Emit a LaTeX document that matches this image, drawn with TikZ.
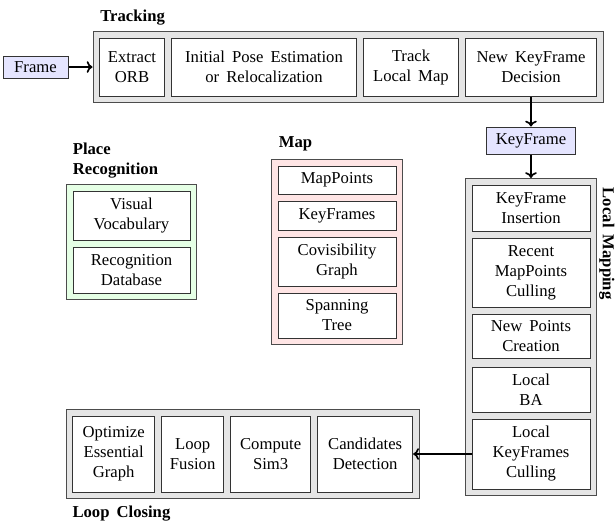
\documentclass[tikz,border=0pt]{standalone}
\usepackage{fontspec}
\setmainfont[WordSpace=1.7]{Liberation Serif}
\usepackage{tikz}
\usetikzlibrary{positioning, fit, backgrounds, arrows.meta}

\begin{document}
\begin{tikzpicture}[->, >={To[length=3.5pt, width=7pt]}, line width=1pt, x=0.6pt, y=-0.6pt, node distance=3.6pt]
\tikzstyle{block}=[draw=black!80, fill=white, semithick, align=center, inner sep=2pt, minimum width=70.8pt]
\tikzstyle{data}=[draw=black!80, fill=blue!10, semithick, inner sep=2pt]
\tikzstyle{group}=[draw=black!70, semithick, inner sep=3.6pt]
\tikzstyle{grouplabel}=[font=\bfseries, inner sep=0pt, align=left]
\tikzstyle{trackbox}=[block, minimum height=34.8pt]
\tikzstyle{loopbox}=[block, minimum height=45.6pt]

\useasboundingbox[-] (0,0) rectangle (616,525);

% Tracking
\node[data, minimum width=39pt, minimum height=13.2pt] (frame) at (35.5,67) {Frame};
\node[trackbox, minimum width=39pt, anchor=west] (eorb) at (99,67) {Extract\\ORB};
\node[trackbox, minimum width=111pt, right=of eorb] (ipe) {Initial Pose Estimation\\or Relocalization};
\node[trackbox, minimum width=57pt, right=of ipe] (tlm) {Track\\Local Map};
\node[trackbox, minimum width=78.6pt, right=of tlm] (nkf) {New KeyFrame\\Decision};

\node[data, minimum width=53.4pt, minimum height=16.2pt, below=18pt of nkf] (kf) {KeyFrame};

% Local Mapping
\node[block, minimum height=27.6pt, below=18pt of kf] (kfi) {KeyFrame\\Insertion};
\node[block, minimum height=41.4pt, below=of kfi] (rmc) {Recent\\MapPoints\\Culling};
\node[block, minimum height=26.4pt, below=of rmc] (npc) {New Points\\Creation};
\node[block, minimum height=27pt, below=4.8pt of npc] (lba) {Local\\BA};
\node[block, minimum height=42pt, below=of lba] (lkc) {Local\\KeyFrames\\Culling};

% Loop Closing
\node[loopbox, minimum width=57pt, left=35pt of lkc] (cd) {Candidates\\Detection};
\node[loopbox, minimum width=48pt, left=of cd] (cs3) {Compute\\Sim3};
\node[loopbox, minimum width=37.2pt, left=of cs3] (lf) {Loop\\Fusion};
\node[loopbox, minimum width=49.2pt, left=of lf] (oeg) {Optimize\\Essential\\Graph};

% Place Recognition
\node[block, minimum width=70.2pt, minimum height=29.4pt] (vv) at (131.5,215.5) {Visual\\Vocabulary};
\node[block, minimum width=70.2pt, minimum height=27.6pt, below=of vv] (rd) {Recognition\\Database};

% Map
\node[block, minimum height=16.8pt] (mp) at (337,180) {MapPoints};
\node[block, minimum height=17.4pt, below=of mp] (kfs) {KeyFrames};
\node[block, minimum height=29.4pt, below=of kfs] (cg) {Covisibility\\Graph};
\node[block, minimum height=27pt, below=of cg] (st) {Spanning\\Tree};

\begin{scope}[on background layer]
\node[group, fill=gray!20, fit=(eorb)(nkf)] (trk) {};
\node[group, fill=gray!20, fit=(kfi)(lkc)] (lm) {};
\node[group, fill=gray!20, fit=(oeg)(cd)] (lc) {};
\node[group, fill=green!10, fit=(vv)(rd)] (pr) {};
\node[group, fill=red!10, fit=(mp)(st)] (map) {};
\end{scope}

\node[grouplabel, anchor=south west] (trklabel) at ([xshift=4.2pt, yshift=3.2pt]trk.north west) {Tracking};
\node[grouplabel, anchor=south west] (prlabel) at ([xshift=3.6pt, yshift=3.2pt]pr.north west) {Place\\Recognition};
\node[grouplabel, anchor=south west] (maplabel) at ([xshift=4.2pt, yshift=4pt]map.north west) {Map};
\node[grouplabel, anchor=north west] (lclabel) at ([xshift=3.6pt, yshift=-3.6pt]lc.south west) {Loop Closing};
\node[grouplabel, rotate=-90, anchor=south west] (lmlabel) at ([xshift=0.8pt, yshift=-5.4pt]lm.north east) {Local Mapping};

\path
(frame) edge (trk)
(nkf) edge (kf)
(kf) edge (lm)
(lkc) edge (cd);

\end{tikzpicture}
\end{document}
